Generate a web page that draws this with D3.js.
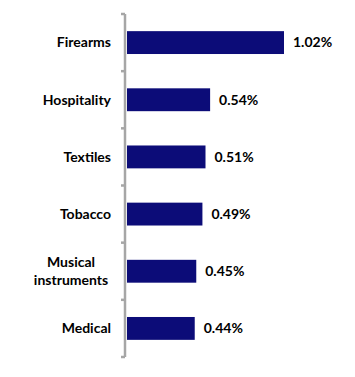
<!DOCTYPE html>
<html>
<head>
<meta charset="utf-8">
<script src="https://cdn.jsdelivr.net/npm/d3@7"></script>
<style>
	body { margin: 0; background: #fff; }
	svg { display: block; }
	text { font-family: Lato, "Open Sans", sans-serif; font-weight: bold; fill: #000; }
</style>
</head>
<body>
<svg id="svg" width="355" height="377"></svg>
<script>

// chart data
var categories = [["Firearms"], ["Hospitality"], ["Textiles"], ["Tobacco"], ["Musical", "instruments"], ["Medical"]];
var values = [1.02, 0.54, 0.51, 0.49, 0.45, 0.44];
var valueLabels = ["1.02%", "0.54%", "0.51%", "0.49%", "0.45%", "0.44%"];

var svg = d3.select("svg"),
	axisX = 125,
	plotTop = 14,
	plotBottom = 357;

var y = d3.scaleBand()
	.domain(d3.range(values.length))
	.range([plotTop, plotBottom])
	.paddingInner(0.6)
	.paddingOuter(0.3);

var x = d3.scaleLinear()
	.domain([0, 1.02])
	.range([axisX + 2, 284]);

// bars
svg.append("g")
	.selectAll("rect")
	.data(values)
	.enter().append("rect")
	.attr("x", x(0))
	.attr("y", function (d, i) { return y(i); })
	.attr("width", function (d) { return x(d) - x(0); })
	.attr("height", y.bandwidth())
	.style("fill", "#0c0c78");

// axis line + ticks between categories
var step = (plotBottom - plotTop) / values.length;
var axis = svg.append("g").style("stroke", "#a6a6a6").style("stroke-width", "2.5px");
axis.append("line")
	.attr("x1", axisX).attr("x2", axisX)
	.attr("y1", plotTop).attr("y2", plotBottom);
axis.selectAll("line.tick")
	.data(d3.range(values.length + 1))
	.enter().append("line")
	.attr("class", "tick")
	.attr("x1", axisX - 4).attr("x2", axisX)
	.attr("y1", function (i) { return plotTop + i * step; })
	.attr("y2", function (i) { return plotTop + i * step; });

// category labels
var cat = svg.append("g")
	.selectAll("text")
	.data(categories)
	.enter().append("text")
	.style("font-size", "14px")
	.attr("text-anchor", function (d) { return d.length > 1 ? "middle" : "end"; })
	.attr("transform", function (d, i) {
		var cy = y(i) + y.bandwidth() / 2;
		return "translate(" + (d.length > 1 ? 71 : 111) + "," + cy + ")";
	});

cat.selectAll("tspan")
	.data(function (d) { return d; })
	.enter().append("tspan")
	.attr("x", 0)
	.attr("y", function (t, j, nodes) {
		var n = nodes.length;
		return (j - (n - 1) / 2) * 18.5;
	})
	.attr("dy", "0.35em")
	.text(function (t) { return t; });

// value labels
svg.append("g")
	.selectAll("text")
	.data(values)
	.enter().append("text")
	.style("font-size", "14px")
	.attr("x", function (d) { return x(d) + 9; })
	.attr("y", function (d, i) { return y(i) + y.bandwidth() / 2; })
	.attr("dy", "0.35em")
	.text(function (d, i) { return valueLabels[i]; });

</script>
</body>
</html>
